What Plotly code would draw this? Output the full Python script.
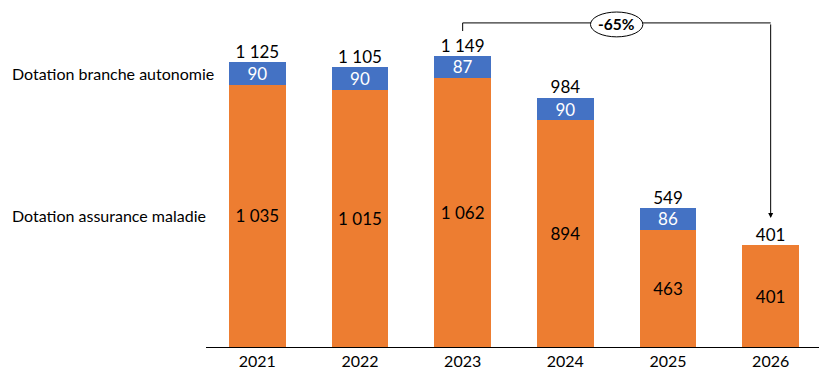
import plotly.graph_objects as go

years = ["2021", "2022", "2023", "2024", "2025", "2026"]
maladie = [1035, 1015, 1062, 894, 463, 401]
autonomie = [90, 90, 87, 90, 86, None]
totals = [1125, 1105, 1149, 984, 549, 401]
series_names = ["Dotation assurance maladie", "Dotation branche autonomie"]
change_label = "-65%"

ORANGE = "#ED7D31"
BLUE = "#4472C4"
FONT = "Lato"
FS = 17


def fmt(v):
    return "" if v is None else f"{v:,}".replace(",", " ")


fig = go.Figure()
fig.add_trace(go.Bar(
    x=years, y=maladie, marker_color=ORANGE, width=0.555, marker_line_width=0,
    text=[fmt(v) for v in maladie], textposition="inside", insidetextanchor="middle",
    textangle=0, constraintext="none",
    textfont=dict(color="black", size=FS, family=FONT), showlegend=False,
    name=series_names[0],
))
fig.add_trace(go.Bar(
    x=years, y=autonomie, marker_color=BLUE, width=0.555, marker_line_width=0,
    text=[fmt(v) for v in autonomie], textposition="inside", insidetextanchor="middle",
    textangle=0, constraintext="none",
    textfont=dict(color="white", size=FS, family=FONT), showlegend=False,
    name=series_names[1],
))
fig.add_trace(go.Scatter(
    x=years, y=totals, mode="text", text=[fmt(v) for v in totals],
    textposition="top center", textfont=dict(color="black", size=FS, family=FONT),
    showlegend=False, hoverinfo="skip",
))

# left labels next to 2021 segments
LX = -0.318
fig.add_annotation(xref="paper", yref="y", x=LX, xanchor="left",
                   y=maladie[0] / 2, text=series_names[0], showarrow=False,
                   font=dict(size=16, family=FONT, color="black"))
fig.add_annotation(xref="paper", yref="y", x=LX, xanchor="left",
                   y=maladie[0] + autonomie[0] / 2, text=series_names[1], showarrow=False,
                   font=dict(size=16, family=FONT, color="black"))

# bracket arrow 2023 -> 2026
i0, i1 = 2, 5
y_top = 1279
fig.add_shape(type="line", xref="x", yref="y", x0=i0, x1=i0, y0=totals[i0] + 98, y1=y_top,
              line=dict(color="black", width=1))
fig.add_shape(type="line", xref="x", yref="y", x0=i0, x1=i1, y0=y_top, y1=y_top,
              line=dict(color="black", width=1))
fig.add_annotation(xref="x", yref="y", axref="x", ayref="y",
                   x=i1, y=totals[i1] + 108, ax=i1, ay=y_top,
                   showarrow=True, arrowhead=2, arrowsize=1, arrowwidth=1,
                   arrowcolor="black", text="")
xm = (i0 + i1) / 2
fig.add_shape(type="circle", xref="x", yref="y", x0=xm - 0.255, x1=xm + 0.255,
              y0=y_top - 55, y1=y_top + 43, fillcolor="white",
              line=dict(color="black", width=1))
fig.add_annotation(xref="x", yref="y", x=xm, y=y_top - 6, text="<b>" + change_label + "</b>",
                   showarrow=False, font=dict(size=15.5, family=FONT, color="black"))

fig.update_layout(
    barmode="stack",
    width=819, height=364,
    margin=dict(l=198, r=5, t=2, b=25),
    paper_bgcolor="white", plot_bgcolor="white",
    font=dict(family=FONT, size=FS, color="black"),
    xaxis=dict(showline=True, linecolor="black", linewidth=1, ticks="",
               tickfont=dict(size=16, family=FONT, color="black"), showgrid=False),
    yaxis=dict(visible=False, range=[0, 1330], showgrid=False),
)

fig.write_html("out.html")
